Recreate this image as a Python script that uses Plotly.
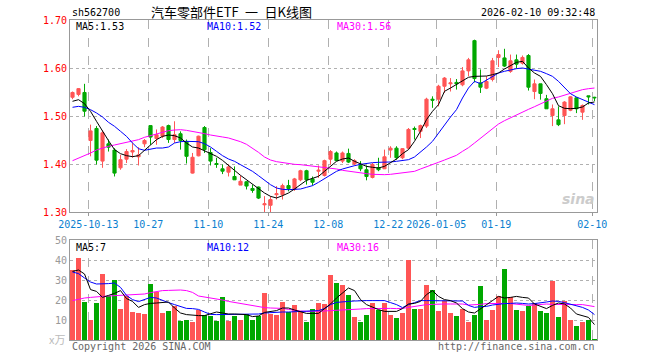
import plotly.graph_objects as go

# ---------------- data ----------------
dates = [
    "2025-09-30", "2025-10-09", "2025-10-10",
    "2025-10-13", "2025-10-14", "2025-10-15", "2025-10-16", "2025-10-17",
    "2025-10-20", "2025-10-21", "2025-10-22", "2025-10-23", "2025-10-24",
    "2025-10-27", "2025-10-28", "2025-10-29", "2025-10-30", "2025-10-31",
    "2025-11-03", "2025-11-04", "2025-11-05", "2025-11-06", "2025-11-07",
    "2025-11-10", "2025-11-11", "2025-11-12", "2025-11-13", "2025-11-14",
    "2025-11-17", "2025-11-18", "2025-11-19", "2025-11-20", "2025-11-21",
    "2025-11-24", "2025-11-25", "2025-11-26", "2025-11-27", "2025-11-28",
    "2025-12-01", "2025-12-02", "2025-12-03", "2025-12-04", "2025-12-05",
    "2025-12-08", "2025-12-09", "2025-12-10", "2025-12-11", "2025-12-12",
    "2025-12-15", "2025-12-16", "2025-12-17", "2025-12-18", "2025-12-19",
    "2025-12-22", "2025-12-23", "2025-12-24", "2025-12-25", "2025-12-26",
    "2025-12-29", "2025-12-30", "2025-12-31",
    "2026-01-05", "2026-01-06", "2026-01-07", "2026-01-08", "2026-01-09",
    "2026-01-12", "2026-01-13", "2026-01-14", "2026-01-15", "2026-01-16",
    "2026-01-19", "2026-01-20", "2026-01-21", "2026-01-22", "2026-01-23",
    "2026-01-26", "2026-01-27", "2026-01-28", "2026-01-29", "2026-01-30",
    "2026-02-02", "2026-02-03", "2026-02-04", "2026-02-05", "2026-02-06",
    "2026-02-09", "2026-02-10",
]

open_ = [1.539, 1.545, 1.549, 1.449, 1.474, 1.406, 1.442, 1.429, 1.392, 1.410,
         1.425, 1.415, 1.442, 1.480, 1.453, 1.458, 1.480, 1.451, 1.463, 1.447,
         1.381, 1.417, 1.476, 1.424, 1.401, 1.390, 1.383, 1.374, 1.356, 1.363,
         1.349, 1.352, 1.315, 1.314, 1.336, 1.336, 1.355, 1.347, 1.367, 1.386,
         1.369, 1.385, 1.376, 1.410, 1.423, 1.406, 1.422, 1.400, 1.397, 1.388,
         1.372, 1.392, 1.390, 1.429, 1.433, 1.413, 1.433, 1.474, 1.468, 1.479,
         1.535, 1.535, 1.562, 1.567, 1.570, 1.565, 1.594, 1.657, 1.569, 1.558,
         1.576, 1.622, 1.621, 1.593, 1.617, 1.610, 1.626, 1.551, 1.567, 1.536,
         1.501, 1.492, 1.501, 1.512, 1.538, 1.508, 1.542, 1.539]
high = [1.551, 1.558, 1.567, 1.482, 1.479, 1.470, 1.451, 1.433, 1.419, 1.431,
        1.444, 1.435, 1.452, 1.480, 1.472, 1.479, 1.482, 1.489, 1.468, 1.451,
        1.423, 1.459, 1.479, 1.433, 1.413, 1.399, 1.399, 1.395, 1.376, 1.364,
        1.357, 1.353, 1.333, 1.333, 1.354, 1.359, 1.367, 1.371, 1.388, 1.388,
        1.374, 1.397, 1.409, 1.429, 1.426, 1.426, 1.432, 1.410, 1.406, 1.397,
        1.402, 1.413, 1.430, 1.437, 1.437, 1.433, 1.475, 1.478, 1.482, 1.538,
        1.541, 1.565, 1.581, 1.579, 1.577, 1.602, 1.621, 1.659, 1.597, 1.583,
        1.621, 1.637, 1.640, 1.628, 1.628, 1.626, 1.629, 1.576, 1.567, 1.544,
        1.524, 1.520, 1.531, 1.541, 1.539, 1.524, 1.542, 1.540]
low = [1.535, 1.541, 1.499, 1.416, 1.399, 1.392, 1.426, 1.374, 1.388, 1.402,
       1.413, 1.397, 1.435, 1.440, 1.440, 1.454, 1.444, 1.444, 1.430, 1.401,
       1.380, 1.416, 1.423, 1.397, 1.392, 1.379, 1.374, 1.367, 1.356, 1.347,
       1.340, 1.327, 1.299, 1.299, 1.326, 1.326, 1.343, 1.344, 1.364, 1.357,
       1.355, 1.371, 1.374, 1.399, 1.406, 1.402, 1.402, 1.397, 1.385, 1.366,
       1.370, 1.385, 1.390, 1.413, 1.409, 1.410, 1.430, 1.451, 1.454, 1.475,
       1.517, 1.520, 1.548, 1.551, 1.555, 1.562, 1.583, 1.570, 1.548, 1.556,
       1.572, 1.602, 1.602, 1.590, 1.599, 1.607, 1.553, 1.535, 1.534, 1.515,
       1.479, 1.479, 1.483, 1.510, 1.506, 1.492, 1.524, 1.531]
close = [1.549, 1.557, 1.510, 1.469, 1.408, 1.465, 1.435, 1.381, 1.409, 1.426,
         1.428, 1.419, 1.449, 1.456, 1.461, 1.477, 1.451, 1.461, 1.449, 1.416,
         1.414, 1.458, 1.430, 1.406, 1.399, 1.385, 1.394, 1.367, 1.364, 1.354,
         1.345, 1.329, 1.317, 1.326, 1.338, 1.355, 1.349, 1.369, 1.386, 1.367,
         1.362, 1.387, 1.407, 1.426, 1.407, 1.423, 1.404, 1.407, 1.390, 1.374,
         1.399, 1.388, 1.415, 1.433, 1.413, 1.432, 1.472, 1.472, 1.480, 1.535,
         1.533, 1.562, 1.579, 1.569, 1.567, 1.594, 1.617, 1.578, 1.560, 1.572,
         1.615, 1.628, 1.604, 1.615, 1.608, 1.622, 1.560, 1.567, 1.547, 1.515,
         1.515, 1.482, 1.529, 1.540, 1.515, 1.522, 1.540, 1.538]

ma5 = [1.5306, 1.5340, 1.5257, 1.5097, 1.4889, 1.4681, 1.4486, 1.4299, 1.4215, 1.4174,
       1.4153, 1.4174, 1.4285, 1.4403, 1.4507, 1.4576, 1.4604, 1.4590, 1.4542, 1.4437,
       1.4354, 1.4333, 1.4278, 1.4215, 1.4160, 1.4076, 1.3965, 1.3868, 1.3764, 1.3674,
       1.3590, 1.3500, 1.3396, 1.3326, 1.3292, 1.3340, 1.3396, 1.3479, 1.3569, 1.3660,
       1.3701, 1.3743, 1.3847, 1.3951, 1.4056, 1.4104, 1.4125, 1.4056, 1.4000, 1.3951,
       1.3931, 1.3917, 1.3951, 1.4021, 1.4104, 1.4215, 1.4299, 1.4472, 1.4681, 1.4924,
       1.5097, 1.5236, 1.5514, 1.5583, 1.5653, 1.5722, 1.5806, 1.5826, 1.5826, 1.5833,
       1.5861, 1.5896, 1.5979, 1.6049, 1.6118, 1.6139, 1.6000, 1.5896, 1.5826, 1.5653,
       1.5465, 1.5215, 1.5160, 1.5153, 1.5160, 1.5188, 1.5271, 1.5292]
ma10 = [1.5181, 1.5201, 1.5181, 1.5132, 1.5063, 1.4979, 1.4868, 1.4785, 1.4681, 1.4576,
        1.4437, 1.4319, 1.4285, 1.4312, 1.4333, 1.4333, 1.4354, 1.4437, 1.4465, 1.4472,
        1.4472, 1.4465, 1.4424, 1.4354, 1.4264, 1.4174, 1.4104, 1.4056, 1.3986, 1.3917,
        1.3847, 1.3757, 1.3660, 1.3569, 1.3500, 1.3472, 1.3465, 1.3465, 1.3479, 1.3514,
        1.3549, 1.3618, 1.3694, 1.3778, 1.3847, 1.3896, 1.3938, 1.3965, 1.3993, 1.4014,
        1.4028, 1.4035, 1.4035, 1.4042, 1.4056, 1.4076, 1.4090, 1.4146, 1.4243, 1.4354,
        1.4472, 1.4646, 1.4819, 1.4979, 1.5132, 1.5375, 1.5583, 1.5722, 1.5674, 1.5743,
        1.5826, 1.5896, 1.5931, 1.5965, 1.5986, 1.6000, 1.5979, 1.5951, 1.5931, 1.5882,
        1.5826, 1.5722, 1.5583, 1.5465, 1.5396, 1.5340, 1.5292, 1.5236]
ma30 = [1.4069, 1.4118, 1.4174, 1.4229, 1.4292, 1.4333, 1.4368, 1.4396, 1.4424, 1.4451,
        1.4472, 1.4507, 1.4556, 1.4590, 1.4632, 1.4667, 1.4694, 1.4708, 1.4715, 1.4701,
        1.4681, 1.4660, 1.4632, 1.4604, 1.4576, 1.4563, 1.4542, 1.4507, 1.4465, 1.4410,
        1.4333, 1.4243, 1.4146, 1.4083, 1.4049, 1.4028, 1.4007, 1.3993, 1.3986, 1.3972,
        1.3958, 1.3944, 1.3931, 1.3917, 1.3896, 1.3868, 1.3847, 1.3826, 1.3813, 1.3799,
        1.3785, 1.3778, 1.3778, 1.3785, 1.3799, 1.3813, 1.3826, 1.3847, 1.3896, 1.3938,
        1.3986, 1.4035, 1.4083, 1.4132, 1.4181, 1.4264, 1.4340, 1.4437, 1.4535, 1.4639,
        1.4736, 1.4833, 1.4903, 1.4965, 1.5028, 1.5083, 1.5139, 1.5194, 1.5257, 1.5313,
        1.5368, 1.5396, 1.5438, 1.5479, 1.5514, 1.5549, 1.5569, 1.5583]

volume = [34.8, 41.2, 19.2, 10.2, 18.7, 33.2, 22.2, 29.8, 15.7, 22.2,
          14.2, 13.7, 13.2, 28.2, 23.8, 13.7, 14.7, 17.2, 9.7, 10.2,
          9.2, 15.2, 12.7, 12.2, 9.7, 21.7, 9.7, 12.2, 10.2, 13.2,
          10.2, 12.2, 23.7, 13.2, 12.7, 19.2, 13.8, 17.7, 14.7, 9.2,
          15.7, 18.7, 18.2, 32.7, 28.7, 27.7, 22.7, 11.7, 9.2, 12.7,
          18.7, 15.2, 18.7, 12.7, 11.2, 13.7, 40.2, 15.7, 15.7, 27.7,
          25.2, 14.7, 19.7, 13.7, 12.2, 15.7, 9.2, 12.7, 27.2, 10.2,
          15.2, 22.2, 35.7, 21.7, 15.2, 14.7, 17.2, 18.7, 14.7, 13.7,
          29.7, 11.7, 19.7, 10.2, 7.2, 9.2, 10.2, 0.7]
vol_ma5 = [34.3, 35.0, 33.0, 25.2, 24.3, 21.3, 22.3, 23.3, 24.7, 20.7,
           19.3, 16.3, 17.7, 18.3, 18.5, 18.7, 19.0, 16.0, 13.5, 12.7,
           12.3, 12.2, 12.2, 13.0, 14.0, 13.5, 13.0, 13.0, 13.0, 12.7,
           11.7, 12.0, 13.8, 14.3, 14.7, 16.0, 16.0, 15.0, 14.0, 13.3,
           13.3, 13.3, 15.7, 18.0, 21.0, 23.5, 26.0, 24.7, 20.2, 17.7,
           16.3, 15.2, 14.3, 14.3, 14.3, 15.7, 18.0, 18.3, 19.3, 22.7,
           24.7, 21.8, 20.2, 19.7, 18.5, 15.7, 14.0, 13.5, 15.7, 17.7,
           19.7, 21.8, 21.0, 21.3, 21.8, 21.3, 21.0, 18.0, 16.8, 15.7,
           17.3, 18.5, 18.0, 16.0, 13.0, 12.3, 11.3, 7.7]
vol_ma10 = [34.0, 33.2, 31.0, 29.0, 28.0, 28.0, 28.2, 28.5, 26.3, 22.3,
            20.2, 19.2, 20.2, 21.3, 21.0, 19.7, 18.7, 17.7, 16.7, 15.8,
            15.7, 15.3, 14.0, 12.8, 12.7, 12.7, 12.7, 12.7, 12.7, 12.7,
            12.7, 13.0, 13.5, 13.7, 14.0, 14.0, 14.0, 14.2, 14.2, 14.3,
            14.5, 14.7, 15.7, 17.7, 18.8, 19.2, 19.3, 19.5, 19.7, 19.7,
            19.7, 19.7, 19.7, 18.7, 17.7, 16.2, 17.7, 18.7, 19.7, 19.7,
            19.7, 19.7, 19.7, 19.7, 19.7, 19.5, 17.3, 16.3, 16.7, 16.8,
            17.5, 18.0, 18.2, 18.3, 18.5, 18.3, 18.0, 18.2, 18.5, 19.0,
            19.5, 19.3, 18.7, 18.0, 17.0, 16.3, 15.0, 12.7]
vol_ma30 = [19.7, 20.5, 21.0, 21.3, 21.7, 21.8, 22.0, 22.2, 22.3, 22.5,
            22.7, 22.8, 23.0, 23.7, 24.3, 24.7, 24.8, 25.0, 25.0, 24.7,
            23.8, 22.0, 21.5, 21.3, 20.7, 20.0, 19.3, 18.8, 18.3, 17.7,
            17.0, 16.5, 16.2, 16.0, 16.0, 15.8, 15.3, 14.8, 14.5, 14.3,
            14.3, 14.3, 14.5, 14.7, 14.8, 15.0, 15.2, 15.3, 15.5, 15.7,
            15.8, 15.8, 16.0, 15.8, 15.7, 15.8, 16.3, 16.8, 17.3, 17.7,
            17.8, 18.0, 18.0, 18.0, 18.0, 18.0, 17.5, 17.5, 17.8, 18.2,
            18.3, 18.5, 18.3, 18.2, 18.0, 17.7, 17.3, 17.5, 17.8, 18.0,
            17.8, 17.7, 17.7, 17.7, 17.7, 17.7, 17.2, 16.7]

tick_dates = ["2025-10-13", "2025-10-27", "2025-11-10", "2025-11-24", "2025-12-08",
              "2025-12-22", "2026-01-05", "2026-01-19", "2026-02-10"]
tick_labels = ["2025-10-13", "10-27", "11-10", "11-24", "12-08",
               "12-22", "2026-01-05", "01-19", "02-10"]
price_ticks = [1.30, 1.40, 1.50, 1.60, 1.70]
vol_ticks = [10, 20, 30, 40, 50]

n = len(dates)
for arr in (open_, high, low, close, ma5, ma10, ma30, volume, vol_ma5, vol_ma10, vol_ma30):
    assert len(arr) == n, len(arr)

# ---------------- styling ----------------
RED = "#ff5555"
GREEN = "#00a800"
MONO = "DejaVu Sans Mono, monospace"
CJK = "Noto Sans CJK SC, sans-serif"
GRID = "#b0b0b0"
FRAME = "#999999"

xs = list(range(n))
tick_pos = [dates.index(d) - 0.37 for d in tick_dates]

fig = go.Figure()

fig.add_trace(go.Candlestick(
    x=xs, open=open_, high=high, low=low, close=close,
    increasing=dict(line=dict(color=RED, width=1), fillcolor=RED),
    decreasing=dict(line=dict(color=GREEN, width=1), fillcolor=GREEN),
    whiskerwidth=0, hoverinfo="skip", showlegend=False,
    xaxis="x", yaxis="y",
))
for vals, col in ((ma30, "#ff00ff"), (ma10, "#0000ff"), (ma5, "#000000")):
    fig.add_trace(go.Scatter(x=xs, y=vals, mode="lines",
                             line=dict(color=col, width=1),
                             hoverinfo="skip", showlegend=False,
                             xaxis="x", yaxis="y"))

vol_colors = [RED if c >= o else GREEN for o, c in zip(open_, close)]
fig.add_trace(go.Bar(x=xs, y=volume, marker=dict(color=vol_colors, line=dict(width=0)),
                     width=0.8, hoverinfo="skip", showlegend=False,
                     xaxis="x2", yaxis="y2"))
for vals, col in ((vol_ma30, "#ff00ff"), (vol_ma10, "#0000ff"), (vol_ma5, "#000000")):
    fig.add_trace(go.Scatter(x=xs, y=vals, mode="lines",
                             line=dict(color=col, width=1),
                             hoverinfo="skip", showlegend=False,
                             xaxis="x2", yaxis="y2"))

xr = [-0.42, 87.42]
common_x = dict(range=xr, tickmode="array", tickvals=tick_pos,
                showgrid=True, gridcolor=GRID, griddash="dash", gridwidth=1,
                showline=True, mirror=True, linecolor=FRAME, linewidth=1,
                zeroline=False, fixedrange=True, automargin=False)

fig.update_layout(
    width=660, height=360,
    margin=dict(l=70, r=63, t=20, b=20, autoexpand=False),
    paper_bgcolor="white", plot_bgcolor="white",
    boxgap=0.25, bargap=0,
    font=dict(family=MONO, size=10, color="#000"),
    xaxis=dict(**common_x, domain=[0, 1], anchor="y",
               ticktext=tick_labels, ticks="outside", ticklen=3, tickcolor=FRAME,
               tickfont=dict(family=MONO, size=10, color="#0a7fd0"),
               rangeslider=dict(visible=False)),
    yaxis=dict(domain=[0.4, 1], range=[1.30, 1.70], tickmode="array",
               tickvals=price_ticks, ticktext=[f"{v:.2f}" for v in price_ticks],
               tickfont=dict(family=MONO, size=10, color="#ff0000"),
               showgrid=True, gridcolor=GRID, griddash="dot", gridwidth=1,
               showline=True, mirror=True, linecolor=FRAME, linewidth=1,
               zeroline=False, ticks="", fixedrange=True, anchor="x", automargin=False),
    xaxis2=dict(**common_x, domain=[0, 1], anchor="y2", matches="x",
                showticklabels=False, ticks=""),
    yaxis2=dict(domain=[0, 0.3125], range=[0, 50], tickmode="array",
                tickvals=vol_ticks, ticktext=[str(v) for v in vol_ticks],
                tickfont=dict(family=MONO, size=10, color="#999999"),
                showgrid=True, gridcolor=GRID, griddash="dot", gridwidth=1,
                showline=True, mirror=True, linecolor=FRAME, linewidth=1,
                zeroline=False, ticks="", fixedrange=True, anchor="x2", automargin=False),
)

def px_x(px):
    return (px - 70) / 527.0

def px_y(py):
    return (340 - py) / 320.0

ann = [
    dict(text="sh562700", x=px_x(70), y=px_y(12), xanchor="left", font=dict(size=10, color="#000")),
    dict(text="汽车零部件ETF\u2002一\u2002日K线图", x=px_x(231), y=px_y(11.5), xanchor="center",
         font=dict(family=CJK, size=13, color="#000")),
    dict(text="2026-02-10 09:32:48", x=px_x(597), y=px_y(12), xanchor="right", font=dict(size=10, color="#000")),
    dict(text=f"MA5:{ma5[-1]:.2f}", x=px_x(74), y=px_y(26.5), xanchor="left", font=dict(size=10, color="#000")),
    dict(text=f"MA10:{ma10[-1]:.2f}", x=px_x(205), y=px_y(26.5), xanchor="left", font=dict(size=10, color="#0000ff")),
    dict(text=f"MA30:{ma30[-1]:.2f}", x=px_x(335), y=px_y(26.5), xanchor="left", font=dict(size=10, color="#ff00ff")),
    dict(text=f"MA5:{int(vol_ma5[-1])}", x=px_x(74), y=px_y(247), xanchor="left", font=dict(size=10, color="#000")),
    dict(text=f"MA10:{int(vol_ma10[-1])}", x=px_x(205), y=px_y(247), xanchor="left", font=dict(size=10, color="#0000ff")),
    dict(text=f"MA30:{int(vol_ma30[-1])}", x=px_x(335), y=px_y(247), xanchor="left", font=dict(size=10, color="#ff00ff")),
    dict(text="x万", x=px_x(67), y=px_y(339), xanchor="right", font=dict(family=CJK, size=11, color="#bbbbbb")),
    dict(text="Copyright 2026 SINA.COM", x=px_x(70), y=px_y(346), xanchor="left", font=dict(size=10, color="#666666")),
    dict(text="http://finance.sina.com.cn", x=px_x(597), y=px_y(346), xanchor="right", font=dict(size=10, color="#666666")),
    dict(text="<b><i>sina</i></b>", x=px_x(597), y=px_y(199), xanchor="right",
         font=dict(family="DejaVu Sans, sans-serif", size=14, color="#cccccc")),
]
for a in ann:
    a.setdefault("yanchor", "middle")
    fig.add_annotation(xref="paper", yref="paper", showarrow=False, **a)

fig.write_html("out.html",
               config={"displayModeBar": False, "staticPlot": True},
               post_script="document.body.style.margin='0px';document.body.style.overflow='hidden';")
